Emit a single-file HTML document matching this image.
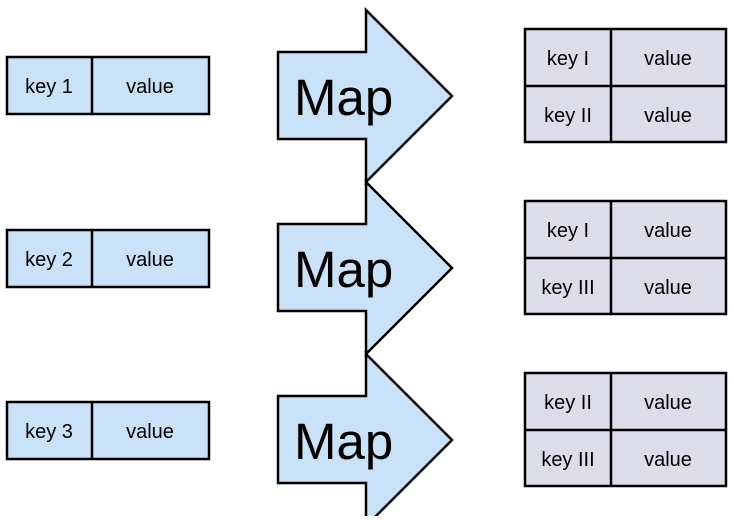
<!DOCTYPE html>
<html><head><style>
body{margin:0;width:734px;height:516px;background:#fff;overflow:hidden}
svg text{font-family:"Liberation Sans",sans-serif;fill:#000}
</style></head><body>
<svg width="734" height="516" viewBox="0 0 734 516" xmlns="http://www.w3.org/2000/svg">
<g stroke="#000" stroke-width="2.5" fill="#c9e2f7">
<rect x="7" y="57" width="202" height="57"/><line x1="92" y1="57" x2="92" y2="114"/>
<rect x="7" y="230" width="202" height="57"/><line x1="92" y1="230" x2="92" y2="287"/>
<rect x="7" y="402" width="202" height="57"/><line x1="92" y1="402" x2="92" y2="459"/>
<polygon points="278,52 366,52 366,10 452,96 366,182 366,139 278,139"/>
<polygon points="278,224 366,224 366,182 452,268 366,354 366,311 278,311"/>
<polygon points="278,396 366,396 366,354 452,440 366,526 366,483 278,483"/>
</g>
<g stroke="#000" stroke-width="2.5" fill="#dcdcea">
<rect x="525" y="29" width="201" height="113"/><line x1="525" y1="86" x2="726" y2="86"/><line x1="611" y1="29" x2="611" y2="142"/>
<rect x="525" y="201" width="201" height="113"/><line x1="525" y1="258" x2="726" y2="258"/><line x1="611" y1="201" x2="611" y2="314"/>
<rect x="525" y="373" width="201" height="113"/><line x1="525" y1="430" x2="726" y2="430"/><line x1="611" y1="373" x2="611" y2="486"/>
</g>
<g font-size="20" text-anchor="middle">
<text x="49" y="93">key 1</text><text x="150" y="93">value</text>
<text x="49" y="266">key 2</text><text x="150" y="266">value</text>
<text x="49" y="438">key 3</text><text x="150" y="438">value</text>
<text x="568" y="65">key I</text><text x="668" y="65">value</text>
<text x="568" y="122">key II</text><text x="668" y="122">value</text>
<text x="568" y="237">key I</text><text x="668" y="237">value</text>
<text x="568" y="294">key III</text><text x="668" y="294">value</text>
<text x="568" y="409">key II</text><text x="668" y="409">value</text>
<text x="568" y="466">key III</text><text x="668" y="466">value</text>
</g>
<g font-size="51">
<text x="294" y="115">Map</text>
<text x="294" y="287">Map</text>
<text x="294" y="459">Map</text>
</g>
</svg>
</body></html>
